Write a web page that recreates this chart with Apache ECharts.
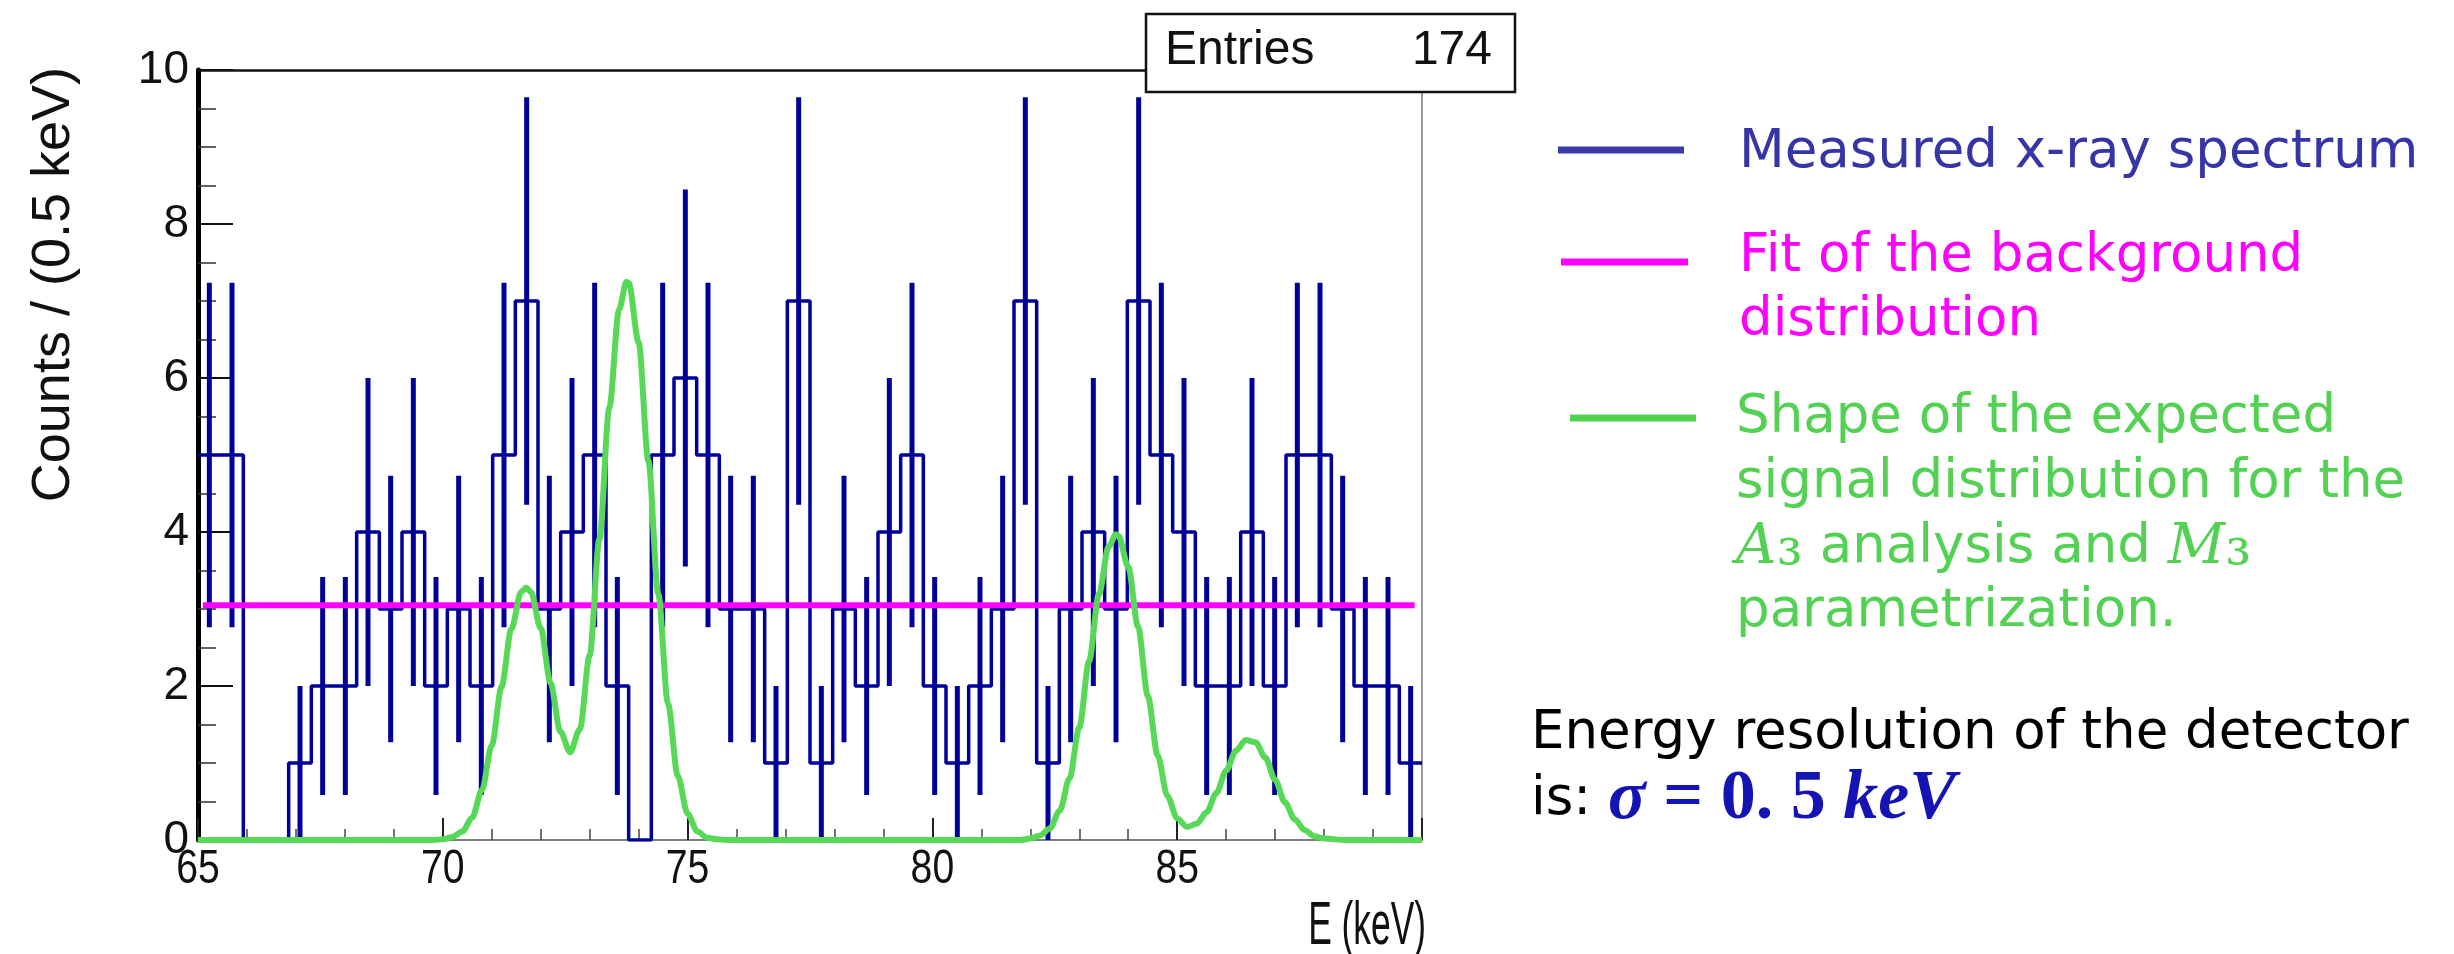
<!DOCTYPE html>
<html>
<head>
<meta charset="utf-8">
<script src="https://cdn.jsdelivr.net/npm/echarts@6/dist/echarts.min.js"></script>
<style>
  html, body { margin: 0; padding: 0; background: #ffffff; }
  #chart { width: 2454px; height: 954px; }
</style>
</head>
<body>
<div id="chart"></div>
<script>
// Measured x-ray spectrum: counts per bin across the energy range (keV)
const energyRange = [65, 90];
const binCounts = [
  5, 5, 0, 0, 1, 2, 2, 4, 3, 4,
  2, 3, 2, 5, 7, 3, 4, 5, 2, 0,
  5, 6, 5, 3, 3, 1, 7, 1, 3, 2,
  4, 5, 2, 1, 2, 3, 7, 1, 3, 4,
  3, 7, 5, 4, 2, 2, 4, 2, 5, 5,
  3, 2, 2, 1
];

// Flat background fit
const bkgLevel = 3.05;
const bkgRange = [65.1, 89.85];

// Expected signal shape, sampled along the energy axis
const sigE = [
  65, 69.4, 69.6, 69.8, 70.0, 70.2, 70.4, 70.6, 70.8, 71.0, 71.2, 71.4, 71.6, 71.7, 71.8,
  72.0, 72.2, 72.4, 72.6, 72.8, 73.0, 73.2, 73.4, 73.6, 73.75, 73.8, 74.0, 74.2, 74.4,
  74.6, 74.8, 75.0, 75.2, 75.4, 75.6, 75.8,
  81.6, 81.8, 82.0, 82.2, 82.4, 82.6, 82.8, 83.0, 83.2, 83.4, 83.6, 83.75, 83.8, 84.0,
  84.2, 84.4, 84.6, 84.8, 85.0, 85.2, 85.4, 85.6, 85.8, 86.0, 86.2, 86.4, 86.6, 86.8,
  87.0, 87.2, 87.4, 87.6, 87.8, 88.0, 88.2, 88.4, 90
];
const sigY = [
  0, 0, 0, 0, 0.01, 0.04, 0.11, 0.29, 0.65, 1.23, 1.99, 2.74, 3.22, 3.28, 3.22,
  2.75, 2.04, 1.41, 1.14, 1.44, 2.40, 3.91, 5.61, 6.89, 7.25, 7.23, 6.46, 4.92, 3.20,
  1.77, 0.83, 0.34, 0.11, 0.03, 0.01, 0,
  0, 0, 0.02, 0.06, 0.15, 0.38, 0.80, 1.46, 2.32, 3.19, 3.81, 3.97, 3.95, 3.55,
  2.77, 1.87, 1.10, 0.57, 0.28, 0.17, 0.21, 0.36, 0.61, 0.90, 1.16, 1.30, 1.27, 1.07,
  0.78, 0.49, 0.27, 0.13, 0.05, 0.02, 0.01, 0, 0
];

// Axis tick labels
const xTickLabels = [65, 70, 75, 80, 85];
const yTickLabels = [0, 2, 4, 6, 8, 10];

// Histogram outline (bin edges) and Poisson error bars at bin centres
const nBins = binCounts.length;
const binWidth = (energyRange[1] - energyRange[0]) / nBins;
const stepData = binCounts.map((c, i) => [energyRange[0] + i * binWidth, c]);
stepData.push([energyRange[1], binCounts[nBins - 1]]);
const errData = [];
binCounts.forEach((c, i) => {
  if (c > 0) {
    const e = Math.sqrt(c);
    errData.push([energyRange[0] + (i + 0.5) * binWidth, c - e, c + e]);
  }
});
const entries = binCounts.reduce((a, b) => a + b, 0);
const signalData = sigE.map((e, i) => [e, sigY[i]]);

const HIST = '#000099';
const FONT = "'Liberation Sans', Arial, sans-serif";
const SLIDE = "'DejaVu Sans', Verdana, sans-serif";
const MATH = "'DejaVu Serif', 'Liberation Serif', serif";
const FORMULA = "'Liberation Serif', 'DejaVu Serif', serif";
const xStep = xTickLabels[1] - xTickLabels[0];
const yStep = yTickLabels[1] - yTickLabels[0];

const chart = echarts.init(document.getElementById('chart'), null, { renderer: 'canvas' });

chart.setOption({
  animation: false,
  backgroundColor: '#ffffff',
  grid: { left: 198, right: 1032, top: 70, bottom: 114, containLabel: false },
  xAxis: [
    {
      type: 'value', min: energyRange[0], max: energyRange[1], interval: xStep,
      position: 'bottom',
      axisLine: { show: true, onZero: false, lineStyle: { color: '#7d7d7d', width: 2 } },
      axisTick: { show: true, inside: true, length: 22, lineStyle: { color: '#222', width: 2 } },
      minorTick: { show: true, splitNumber: 5, length: 11, lineStyle: { color: '#444', width: 1.5 } },
      axisLabel: { show: false },
      splitLine: { show: false }
    },
    {
      type: 'value', min: energyRange[0], max: energyRange[1], position: 'top',
      axisLine: { show: true, onZero: false, lineStyle: { color: '#111', width: 2.5 } },
      axisTick: { show: false }, axisLabel: { show: false }, splitLine: { show: false }
    }
  ],
  yAxis: [
    {
      type: 'value', min: yTickLabels[0], max: yTickLabels[yTickLabels.length - 1], interval: yStep,
      position: 'left',
      axisLine: { show: true, onZero: false, lineStyle: { color: '#000', width: 5 } },
      axisTick: { show: true, inside: true, length: 35, lineStyle: { color: '#111', width: 2 } },
      minorTick: { show: true, splitNumber: 4, length: 18, lineStyle: { color: '#333', width: 1.5 } },
      axisLabel: { fontSize: 46, fontFamily: FONT, color: '#111', margin: 9 },
      splitLine: { show: false }
    },
    {
      type: 'value', min: 0, max: 10, position: 'right',
      axisLine: { show: true, onZero: false, lineStyle: { color: '#9a9a9a', width: 2 } },
      axisTick: { show: false }, axisLabel: { show: false }, splitLine: { show: false }
    }
  ],
  series: [
    {
      name: 'histogram', type: 'line', step: 'end', xAxisIndex: 0, yAxisIndex: 0,
      data: stepData, symbol: 'none', lineStyle: { color: HIST, width: 3.5 }, z: 2
    },
    {
      name: 'errors', type: 'custom', xAxisIndex: 0, yAxisIndex: 0,
      data: errData, encode: { x: 0, y: [1, 2] }, z: 3,
      renderItem: function (params, api) {
        const x = api.value(0);
        const p1 = api.coord([x, api.value(1)]);
        const p2 = api.coord([x, api.value(2)]);
        return {
          type: 'line',
          shape: { x1: p1[0], y1: p1[1], x2: p2[0], y2: p2[1] },
          style: { stroke: HIST, lineWidth: 5 }
        };
      }
    },
    {
      name: 'background', type: 'line', xAxisIndex: 0, yAxisIndex: 0,
      data: [[bkgRange[0], bkgLevel], [bkgRange[1], bkgLevel]],
      symbol: 'none', lineStyle: { color: '#ff00ff', width: 6 }, z: 4
    },
    {
      name: 'signal', type: 'line', xAxisIndex: 0, yAxisIndex: 0,
      data: signalData, symbol: 'none', smooth: 0.3, smoothMonotone: 'x',
      lineStyle: { color: '#57d957', width: 6 }, z: 5
    },
    {
      // energy tick labels, narrow lettering placed under each major tick
      name: 'xlabels', type: 'custom', xAxisIndex: 0, yAxisIndex: 0, clip: false,
      data: xTickLabels.map(v => [v, yTickLabels[0]]), encode: { x: 0, y: 1 }, z: 6,
      renderItem: function (params, api) {
        const p = api.coord([api.value(0), api.value(1)]);
        return {
          type: 'text', x: p[0], y: p[1] + 5, scaleX: 0.8,
          style: {
            text: String(api.value(0)), fontSize: 49, fontFamily: FONT, fill: '#111',
            textAlign: 'center', textVerticalAlign: 'top', align: 'center', verticalAlign: 'top'
          }
        };
      }
    }
  ],
  graphic: [
    // axis titles
    {
      type: 'text', x: 54, y: 67, rotation: Math.PI / 2, z: 50,
      style: { text: 'Counts / (0.5 keV)', fontSize: 54, fontFamily: FONT, fill: '#111',
               textAlign: 'right', textVerticalAlign: 'middle' }
    },
    {
      type: 'text', x: 1426, y: 927, scaleX: 0.57, z: 50,
      style: { text: 'E (keV)', fontSize: 62, fontFamily: FONT, fill: '#111',
               textAlign: 'right', textVerticalAlign: 'middle' }
    },
    // statistics box
    {
      type: 'rect', z: 60, shape: { x: 1146, y: 14, width: 369, height: 78 },
      style: { fill: '#ffffff', stroke: '#111', lineWidth: 2.5 }
    },
    {
      type: 'text', x: 1165, y: 51, z: 61,
      style: { text: 'Entries', fontSize: 48, fontFamily: FONT, fill: '#111',
               textAlign: 'left', textVerticalAlign: 'middle' }
    },
    {
      type: 'text', x: 1492, y: 51, z: 61,
      style: { text: String(entries), fontSize: 48, fontFamily: FONT, fill: '#111',
               textAlign: 'right', textVerticalAlign: 'middle' }
    },
    // legend keys
    { type: 'line', z: 50, shape: { x1: 1558, y1: 150, x2: 1684, y2: 150 },
      style: { stroke: '#3a3aa8', lineWidth: 7 } },
    { type: 'line', z: 50, shape: { x1: 1561, y1: 262, x2: 1688, y2: 262 },
      style: { stroke: '#ff00ff', lineWidth: 7 } },
    { type: 'line', z: 50, shape: { x1: 1570, y1: 418, x2: 1696, y2: 418 },
      style: { stroke: '#52d152', lineWidth: 7 } },
    // legend texts
    { type: 'text', x: 1739, y: 153, z: 50,
      style: { text: 'Measured x-ray spectrum', fontSize: 53, fontFamily: SLIDE, fill: '#3535a8',
               textAlign: 'left', textVerticalAlign: 'middle' } },
    { type: 'text', x: 1739, y: 257, z: 50,
      style: { text: 'Fit of the background', fontSize: 53, fontFamily: SLIDE, fill: '#ff00ff',
               textAlign: 'left', textVerticalAlign: 'middle' } },
    { type: 'text', x: 1739, y: 321, z: 50,
      style: { text: 'distribution', fontSize: 53, fontFamily: SLIDE, fill: '#ff00ff',
               textAlign: 'left', textVerticalAlign: 'middle' } },
    { type: 'text', x: 1736, y: 418, z: 50,
      style: { text: 'Shape of the expected', fontSize: 53, fontFamily: SLIDE, fill: '#52d152',
               textAlign: 'left', textVerticalAlign: 'middle' } },
    { type: 'text', x: 1736, y: 483, z: 50,
      style: { text: 'signal distribution for the', fontSize: 53, fontFamily: SLIDE, fill: '#52d152',
               textAlign: 'left', textVerticalAlign: 'middle' } },
    { type: 'text', x: 1736, y: 548, z: 50,
      style: { text: '{m|A}{s|₃} analysis and {m|M}{s|₃}', fontSize: 53, fontFamily: SLIDE, fill: '#52d152',
               textAlign: 'left', textVerticalAlign: 'middle',
               rich: {
                 m: { fontSize: 56, fontFamily: MATH, fontStyle: 'italic', fill: '#52d152' },
                 s: { fontSize: 66, fontFamily: MATH, fill: '#52d152' }
               } } },
    { type: 'text', x: 1736, y: 612, z: 50,
      style: { text: 'parametrization.', fontSize: 53, fontFamily: SLIDE, fill: '#52d152',
               textAlign: 'left', textVerticalAlign: 'middle' } },
    // detector resolution note
    { type: 'text', x: 1531, y: 734, z: 50,
      style: { text: 'Energy resolution of the detector', fontSize: 53, fontFamily: SLIDE, fill: '#000',
               textAlign: 'left', textVerticalAlign: 'middle' } },
    { type: 'text', x: 1531, y: 800, z: 50,
      style: {
        text: '{n|is: }{i|σ}{b| = 0. 5 }{i|keV}', fontSize: 53, fontFamily: SLIDE, fill: '#000',
        textAlign: 'left', textVerticalAlign: 'middle',
        rich: {
          n: { fontSize: 53, fontFamily: SLIDE, fill: '#000' },
          i: { fontSize: 70, fontFamily: FORMULA, fontWeight: 'bold', fontStyle: 'italic', fill: '#1414b4' },
          b: { fontSize: 70, fontFamily: FORMULA, fontWeight: 'bold', fill: '#1414b4' }
        }
      }
    }
  ]
});
</script>
</body>
</html>
